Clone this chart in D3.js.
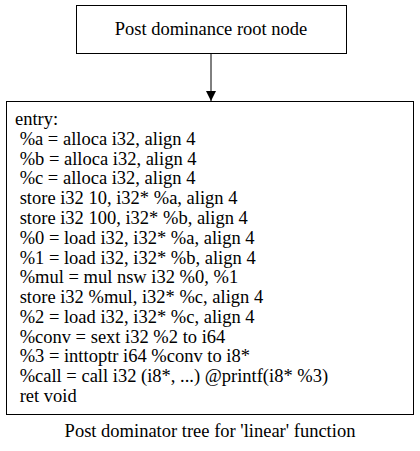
<!DOCTYPE html>
<html><head><meta charset="utf-8">
<script src="https://cdn.jsdelivr.net/npm/d3@7"></script>
<style>body{margin:0;background:#fff} svg text{font-family:"Liberation Serif","Times New Roman",Times,"DejaVu Serif",serif;font-size:18.5px}</style>
</head><body>
<div id="viz"></div>
<script>
var rootLabel = "Post dominance root node"
  , caption   = "Post dominator tree for 'linear' function"
  ;

var entryLines = [ "entry:"
                 , " %a = alloca i32, align 4"
                 , " %b = alloca i32, align 4"
                 , " %c = alloca i32, align 4"
                 , " store i32 10, i32* %a, align 4"
                 , " store i32 100, i32* %b, align 4"
                 , " %0 = load i32, i32* %a, align 4"
                 , " %1 = load i32, i32* %b, align 4"
                 , " %mul = mul nsw i32 %0, %1"
                 , " store i32 %mul, i32* %c, align 4"
                 , " %2 = load i32, i32* %c, align 4"
                 , " %conv = sext i32 %2 to i64"
                 , " %3 = inttoptr i64 %conv to i8*"
                 , " %call = call i32 (i8*, ...) @printf(i8* %3)"
                 , " ret void"
                 ];

var svg = d3.select("#viz").append("svg")
    .attr("width", 420).attr("height", 451);

svg.append("defs").append("marker")
    .attr("id", "arr").attr("viewBox", "0 0 10 10")
    .attr("refX", 10).attr("refY", 5)
    .attr("markerWidth", 10).attr("markerHeight", 10)
    .attr("markerUnits", "userSpaceOnUse")
    .attr("orient", "auto")
  .append("path").attr("d", "M0,0L10,5L0,10Z").attr("fill", "#000");

// root node
svg.append("rect").attr("x", 76.5).attr("y", 5.5).attr("width", 270).attr("height", 48)
    .attr("fill", "none").attr("stroke", "#000");
svg.append("text").attr("x", 211).attr("y", 35).attr("text-anchor", "middle").text(rootLabel);

// edge
svg.append("line").attr("x1", 211).attr("y1", 53.5).attr("x2", 211).attr("y2", 101)
    .attr("stroke", "#000").attr("marker-end", "url(#arr)");

// entry block
svg.append("rect").attr("x", 6.5).attr("y", 101.5).attr("width", 407).attr("height", 313)
    .attr("fill", "none").attr("stroke", "#000");

var y = d3.scalePoint().domain(d3.range(entryLines.length)).range([125, 402]);

svg.selectAll("text.line").data(entryLines).enter().append("text")
    .attr("class", "line")
    .attr("x", 15)
    .attr("y", function(d, i) { return y(i); })
    .attr("xml:space", "preserve")
    .style("white-space", "pre")
    .text(function(d) { return d; });

svg.append("text").attr("x", 210).attr("y", 437).attr("text-anchor", "middle").text(caption);
</script>
</body></html>
